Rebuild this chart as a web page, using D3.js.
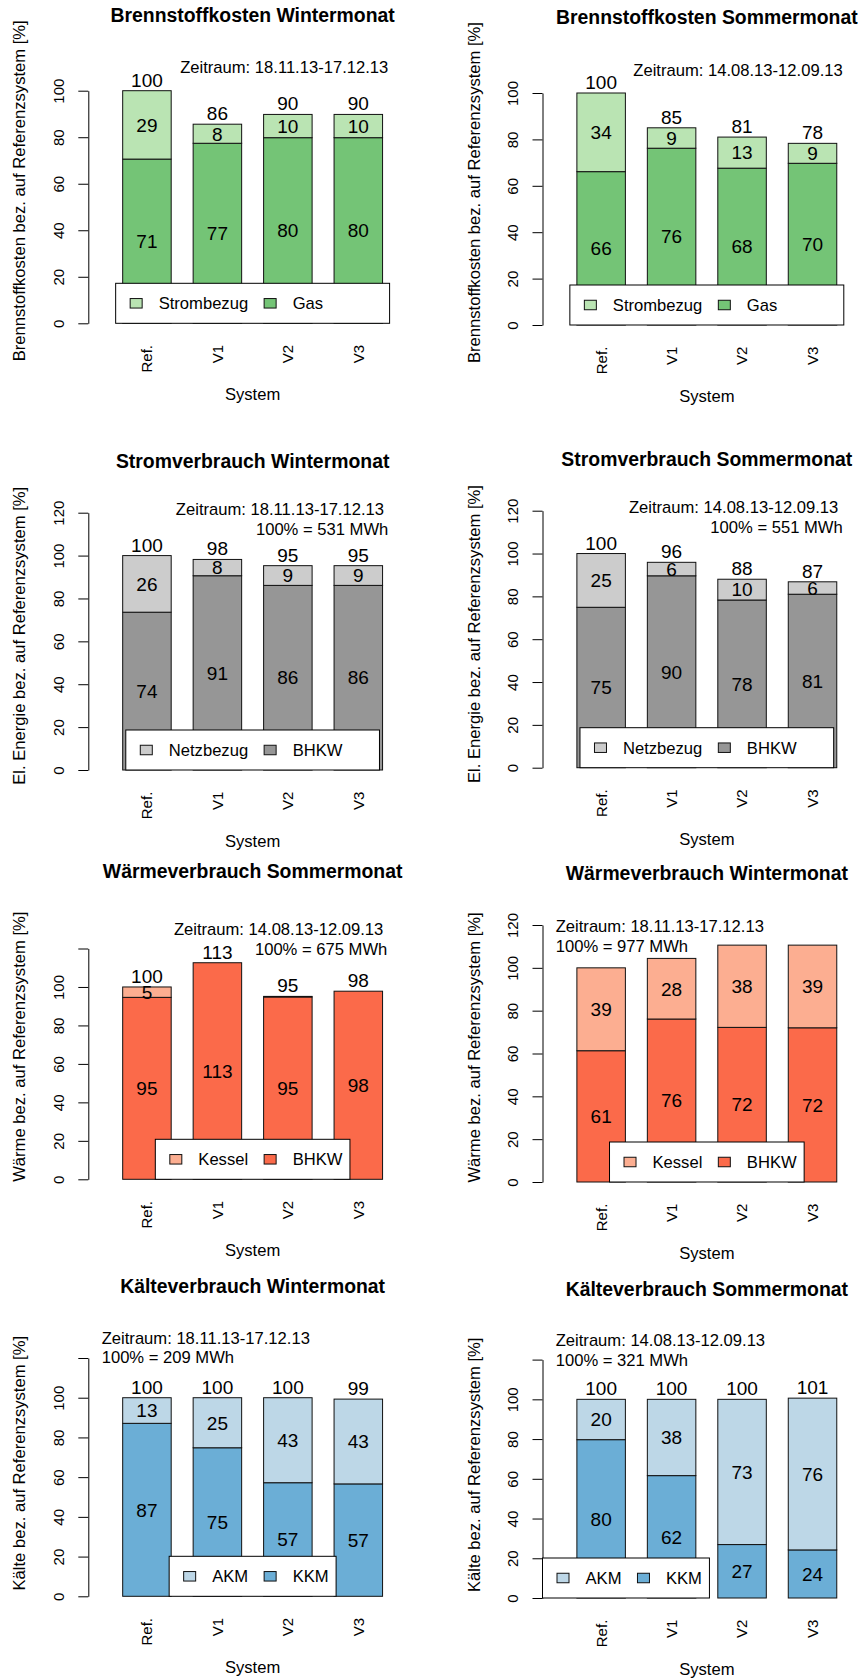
<!DOCTYPE html>
<html>
<head>
<meta charset="utf-8">
<script src="https://cdn.jsdelivr.net/npm/d3@7"></script>
<style>
  html, body { margin: 0; padding: 0; background: #fff; }
  svg { display: block; font-family: "Liberation Sans", Arial, Helvetica, sans-serif; }
</style>
</head>
<body>
<svg id="chart" width="858" height="1679"></svg>
<script>
// ---- categories and tick values ----
const systems = ["Ref.", "V1", "V2", "V3"];
const ticks100 = [0, 20, 40, 60, 80, 100];
const ticks120 = [0, 20, 40, 60, 80, 100, 120];

// ---- periods / reference energies ----
const periodWinter = "Zeitraum: 18.11.13-17.12.13";
const periodSommer = "Zeitraum: 14.08.13-12.09.13";
const basisStromWinter = "100% = 531 MWh";
const basisStromSommer = "100% = 551 MWh";
const basisWaermeSommer = "100% = 675 MWh";
const basisWaermeWinter = "100% = 977 MWh";
const basisKaelteWinter = "100% = 209 MWh";
const basisKaelteSommer = "100% = 321 MWh";

// ---- series (% of reference system) ----
const brennWinterStrom = [29.4, 8.2, 10.0, 10.0];
const brennWinterGas   = [70.6, 77.4, 79.8, 79.8];
const brennSommerStrom = [33.9, 8.8, 13.4, 8.6];
const brennSommerGas   = [66.1, 76.2, 67.6, 69.7];

const stromWinterNetz = [26.4, 7.6, 9.2, 9.2];
const stromWinterBHKW = [73.6, 90.6, 86.1, 86.1];
const stromSommerNetz = [25.1, 6.3, 9.7, 5.8];
const stromSommerBHKW = [74.9, 89.6, 78.3, 81.0];

const waermeSommerKessel = [5.4, 0, 0.3, 0];
const waermeSommerBHKW   = [94.6, 112.6, 94.8, 97.8];
const waermeWinterKessel = [38.7, 28.3, 38.4, 38.6];
const waermeWinterBHKW   = [61.3, 76.1, 72.2, 72.0];

const kaelteWinterAKM = [12.9, 25.2, 42.8, 42.7];
const kaelteWinterKKM = [87.1, 74.8, 57.2, 56.6];
const kaelteSommerAKM = [20.3, 38.4, 73.1, 76.4];
const kaelteSommerKKM = [79.7, 61.6, 26.9, 24.2];

// ---- legend names ----
const legendBrenn  = ["Strombezug", "Gas"];
const legendStrom  = ["Netzbezug", "BHKW"];
const legendWaerme = ["Kessel", "BHKW"];
const legendKaelte = ["AKM", "KKM"];

// ---- colours (light = upper segment, dark = lower segment) ----
const greens = ["#BAE4B3", "#74C476"];
const greys  = ["#CCCCCC", "#969696"];
const reds   = ["#FCAE91", "#FB6A4A"];
const blues  = ["#BDD7E7", "#6BAED6"];

const ylabBrenn  = "Brennstoffkosten bez. auf Referenzsystem [%]";
const ylabStrom  = "El. Energie bez. auf Referenzsystem [%]";
const ylabWaerme = "Wärme bez. auf Referenzsystem [%]";
const ylabKaelte = "Kälte bez. auf Referenzsystem [%]";

// ---- panel descriptions (content + placement on the page) ----
const panels = [
  { title: "Brennstoffkosten Wintermonat", ylab: ylabBrenn, upper: brennWinterStrom, lower: brennWinterGas,
    names: legendBrenn, colors: greens, col: 0, y0: 323.3, yTop: 90.7, yMax: 100, ticks: ticks100, labelled: ticks100,
    titleY: 21.7, ylabY: 190.8, legend: "bottom", totals: true,
    notes: [{ text: periodWinter, x: 388.3, y: 73.3, anchor: "end" }] },
  { title: "Brennstoffkosten Sommermonat", ylab: ylabBrenn, upper: brennSommerStrom, lower: brennSommerGas,
    names: legendBrenn, colors: greens, col: 1, y0: 325, yTop: 93, yMax: 100, ticks: ticks100, labelled: ticks100,
    titleY: 24, ylabY: 192.5, legend: "bottom", totals: true,
    notes: [{ text: periodSommer, x: 388.5, y: 76, anchor: "end" }] },
  { title: "Stromverbrauch Wintermonat", ylab: ylabStrom, upper: stromWinterNetz, lower: stromWinterBHKW,
    names: legendStrom, colors: greys, col: 0, y0: 770, yTop: 512.7, yMax: 120, ticks: ticks120, labelled: ticks120,
    titleY: 468.3, ylabY: 635.8, legend: "bottom", totals: true,
    notes: [{ text: periodWinter, x: 384, y: 515, anchor: "end" },
            { text: basisStromWinter, x: 388.3, y: 535, anchor: "end" }] },
  { title: "Stromverbrauch Sommermonat", ylab: ylabStrom, upper: stromSommerNetz, lower: stromSommerBHKW,
    names: legendStrom, colors: greys, col: 1, y0: 767.7, yTop: 510.7, yMax: 120, ticks: ticks120, labelled: ticks120,
    titleY: 466, ylabY: 634, legend: "bottom", totals: true,
    notes: [{ text: periodSommer, x: 384.1, y: 513.3, anchor: "end" },
            { text: basisStromSommer, x: 388.5, y: 533.3, anchor: "end" }] },
  { title: "Wärmeverbrauch Sommermonat", ylab: ylabWaerme, upper: waermeSommerKessel, lower: waermeSommerBHKW,
    names: legendWaerme, colors: reds, col: 0, y0: 1179.3, yTop: 948.5, yMax: 120, ticks: ticks120, labelled: ticks100,
    titleY: 877.7, ylabY: 1046.7, legend: "bottom", totals: true,
    notes: [{ text: periodSommer, x: 383.3, y: 935, anchor: "end" },
            { text: basisWaermeSommer, x: 387.3, y: 955, anchor: "end" }] },
  { title: "Wärmeverbrauch Wintermonat", ylab: ylabWaerme, upper: waermeWinterKessel, lower: waermeWinterBHKW,
    names: legendWaerme, colors: reds, col: 1, y0: 1182, yTop: 925, yMax: 120, ticks: ticks120, labelled: ticks120,
    titleY: 880, ylabY: 1047.5, legend: "bottom", totals: false,
    notes: [{ text: periodWinter, x: 101.5, y: 931.7, anchor: "start" },
            { text: basisWaermeWinter, x: 101.5, y: 951.7, anchor: "start" }] },
  { title: "Kälteverbrauch Wintermonat", ylab: ylabKaelte, upper: kaelteWinterAKM, lower: kaelteWinterKKM,
    names: legendKaelte, colors: blues, col: 0, y0: 1596.3, yTop: 1358, yMax: 120, ticks: ticks120, labelled: ticks100,
    titleY: 1293.3, ylabY: 1463.2, legend: "bottom", totals: true,
    notes: [{ text: periodWinter, x: 101.7, y: 1344, anchor: "start" },
            { text: basisKaelteWinter, x: 101.7, y: 1363.3, anchor: "start" }] },
  { title: "Kälteverbrauch Sommermonat", ylab: ylabKaelte, upper: kaelteSommerAKM, lower: kaelteSommerKKM,
    names: legendKaelte, colors: blues, col: 1, y0: 1598, yTop: 1359.6, yMax: 120, ticks: ticks120, labelled: ticks100,
    titleY: 1295.7, ylabY: 1464.8, legend: "bottomleft", totals: true,
    notes: [{ text: periodSommer, x: 101.5, y: 1346.3, anchor: "start" },
            { text: basisKaelteSommer, x: 101.5, y: 1366.3, anchor: "start" }] }
];

// ---- drawing ----
const svg = d3.select("#chart");
const colDx = [0, 454.2];
const plotLeft = 88.3, plotRight = 416.95;
const cx = (plotLeft + plotRight) / 2;
const FS_TITLE = 19.4, FS_VAL = 19, FS_AX = 15, FS_TXT = 16.6;
const fmt = d3.format(".0f");

panels.forEach(p => {
  const g = svg.append("g").attr("transform", `translate(${colDx[p.col]},0)`);

  const x = d3.scaleBand().domain(systems).range([plotLeft, plotRight])
    .paddingInner(0.3116).paddingOuter(0.488);
  const y = d3.scaleLinear().domain([0, p.yMax]).range([p.y0, p.yTop]);

  // title
  g.append("text").attr("x", cx).attr("y", p.titleY)
    .attr("text-anchor", "middle").attr("font-weight", "bold")
    .attr("font-size", FS_TITLE).text(p.title);

  // stacked bars
  const rows = systems.map((s, i) => ({ sys: s, lower: p.lower[i], upper: p.upper[i] }));
  const layers = d3.stack().keys(["lower", "upper"])(rows);
  const fills = { lower: p.colors[1], upper: p.colors[0] };

  layers.forEach(layer => {
    g.append("g").selectAll("rect").data(layer).join("rect")
      .attr("x", d => x(d.data.sys))
      .attr("width", x.bandwidth())
      .attr("y", d => y(d[1]))
      .attr("height", d => y(d[0]) - y(d[1]))
      .attr("fill", fills[layer.key])
      .attr("stroke", "#111").attr("stroke-width", 1);
  });

  // segment values
  layers.forEach(layer => {
    g.append("g").selectAll("text")
      .data(layer.filter(d => Math.round(d.data[layer.key]) >= 1))
      .join("text")
      .attr("x", d => x(d.data.sys) + x.bandwidth() / 2)
      .attr("y", d => y((d[0] + d[1]) / 2) + 6.8)
      .attr("text-anchor", "middle").attr("font-size", FS_VAL)
      .text(d => fmt(d.data[layer.key]));
  });

  // totals above bars
  if (p.totals) {
    const top = layers[layers.length - 1];
    g.append("g").selectAll("text").data(top).join("text")
      .attr("x", d => x(d.data.sys) + x.bandwidth() / 2)
      .attr("y", d => y(d[1]) - 4)
      .attr("text-anchor", "middle").attr("font-size", FS_VAL)
      .text(d => fmt(d[1]));
  }

  // y axis
  const yAxis = d3.axisLeft(y).tickValues(p.ticks).tickSize(10).tickSizeOuter(0)
    .tickFormat(v => p.labelled.includes(v) ? v : "");
  const ya = g.append("g").attr("transform", `translate(${plotLeft},0)`).call(yAxis);
  ya.attr("font-family", null).attr("font-size", FS_AX).attr("color", "#000");
  ya.selectAll("text")
    .attr("x", 0).attr("dy", null)
    .attr("text-anchor", "middle")
    .attr("transform", "translate(-24.6,0) rotate(-90)");

  // x axis (category names, rotated)
  const xa = g.append("g").attr("transform", `translate(0,${p.y0})`)
    .call(d3.axisBottom(x).tickSize(0));
  xa.attr("font-family", null).attr("font-size", FS_AX).attr("color", "#000");
  xa.select(".domain").remove();
  xa.selectAll("text")
    .attr("y", 0).attr("dy", null)
    .attr("text-anchor", "end")
    .attr("transform", "translate(5.4,21.7) rotate(-90)");

  // axis titles
  g.append("text").attr("transform", `translate(25.3,${p.ylabY}) rotate(-90)`)
    .attr("text-anchor", "middle").attr("font-size", FS_TXT).text(p.ylab);
  g.append("text").attr("x", cx).attr("y", p.y0 + 77)
    .attr("text-anchor", "middle").attr("font-size", FS_TXT).text("System");

  // period / reference notes
  p.notes.forEach(n => {
    g.append("text").attr("x", n.x).attr("y", n.y)
      .attr("text-anchor", n.anchor).attr("font-size", FS_TXT).text(n.text);
  });

  // legend (horizontal, anchored at the bottom of the plot)
  const lg = g.append("g");
  const widths = p.names.map(nm => {
    const t = lg.append("text").attr("font-size", FS_TXT).text(nm);
    const w = t.node().getComputedTextLength();
    t.remove();
    return w;
  });
  const maxW = d3.max(widths);
  const colW = 28.5 + maxW + 16;
  const boxW = 14.5 + colW * (p.names.length - 1) + 28.5 + maxW + 7.5;
  const boxH = 40;
  const bx = p.legend === "bottom" ? cx - boxW / 2 : plotLeft;
  const by = p.y0 - boxH;
  lg.append("rect").attr("x", bx).attr("y", by).attr("width", boxW).attr("height", boxH)
    .attr("fill", "#fff").attr("stroke", "#000").attr("stroke-width", 1);
  const items = lg.selectAll("g.item").data(p.names).join("g")
    .attr("class", "item")
    .attr("transform", (d, i) => `translate(${bx + 14.5 + i * colW},${by + boxH / 2})`);
  items.append("rect").attr("x", 0).attr("y", -4.75).attr("width", 12).attr("height", 9.5)
    .attr("fill", (d, i) => p.colors[i]).attr("stroke", "#111").attr("stroke-width", 1);
  items.append("text").attr("x", 28.5).attr("y", 6)
    .attr("font-size", FS_TXT).text(d => d);
});
</script>
</body>
</html>
